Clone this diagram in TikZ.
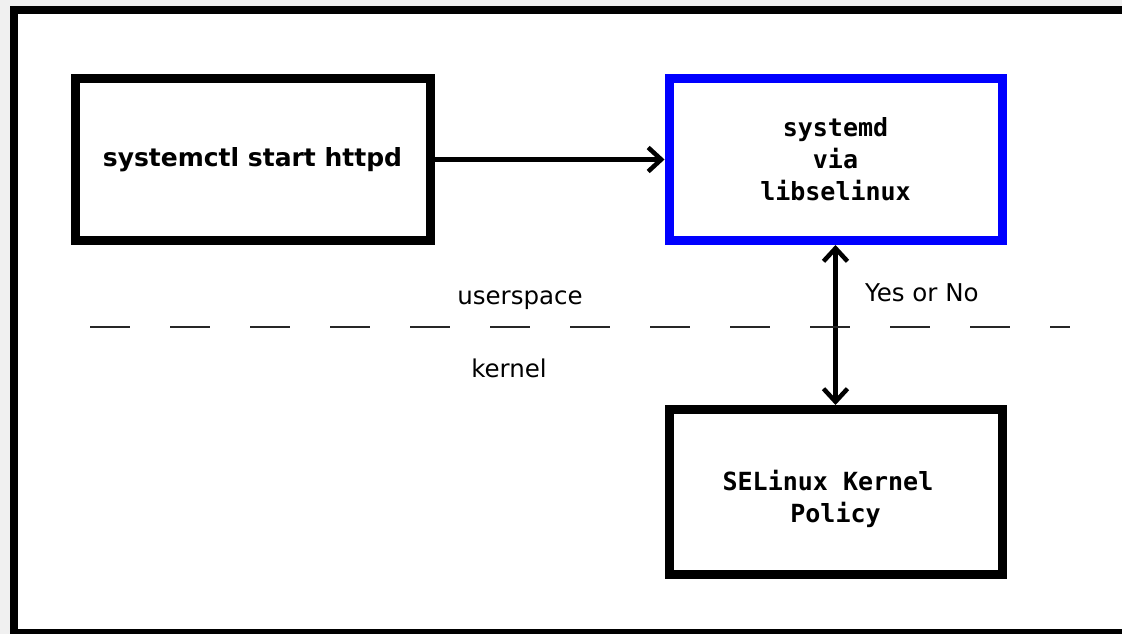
\documentclass[tikz,border=0pt]{standalone}
\usepackage{fontspec}
\setmainfont{DejaVu Sans}
\setmonofont{DejaVu Sans Mono}
\usetikzlibrary{arrows.meta,positioning}

\begin{document}
\begin{tikzpicture}[x=1pt,y=-1pt]
  \tikzset{>={Straight Barb[length=13pt,width=24pt]}}
  \tikzset{box/.style={draw,line width=9pt,minimum width=333pt,
      minimum height=162pt,inner sep=0pt,align=center,
      font=\fontsize{25}{32}\selectfont\bfseries},
    codebox/.style={box,font=\fontsize{25}{32}\selectfont\ttfamily\bfseries},
    flow/.style={line width=4.5pt},
    lbl/.style={font=\fontsize{24.5}{29}\selectfont}}
  \useasboundingbox (0,0) rectangle (1122,634);
  \clip (0,0) rectangle (1122,634);
  \fill[black!6] (0,0) rectangle (1122,634);
  \draw[line width=8pt,fill=white] (13.5,10) rectangle (1140,633);
    \node [box,minimum width=355pt] (cmd) at (252.5,159.5) {systemctl start httpd};
    \node [codebox,draw=blue,right=230pt of cmd] (systemd) {systemd\\via\\libselinux}
     edge[flow,<-] (cmd);
    \node [codebox,minimum height=165pt,below=160pt of systemd] (policy)
     {\raisebox{-8pt}[\height][\depth]{\begin{tabular}{@{}c@{}}SELinux Kernel\phantom{x}\\Policy\end{tabular}}}
     edge[flow,<->] node[lbl,pos=0.7,right=24pt] {Yes or No} (systemd);
    \coordinate (splitL) at (90,327);
    \coordinate (splitR) at (1070,327);
    \draw[line width=2.5pt,black!85,dash pattern=on 40pt off 40pt] (splitL) -- (splitR);
    \node [lbl] (user) at (520,300) {userspace};
    \node [lbl] (kern) at (509,368) {kernel};
  \end{tikzpicture}
\end{document}
